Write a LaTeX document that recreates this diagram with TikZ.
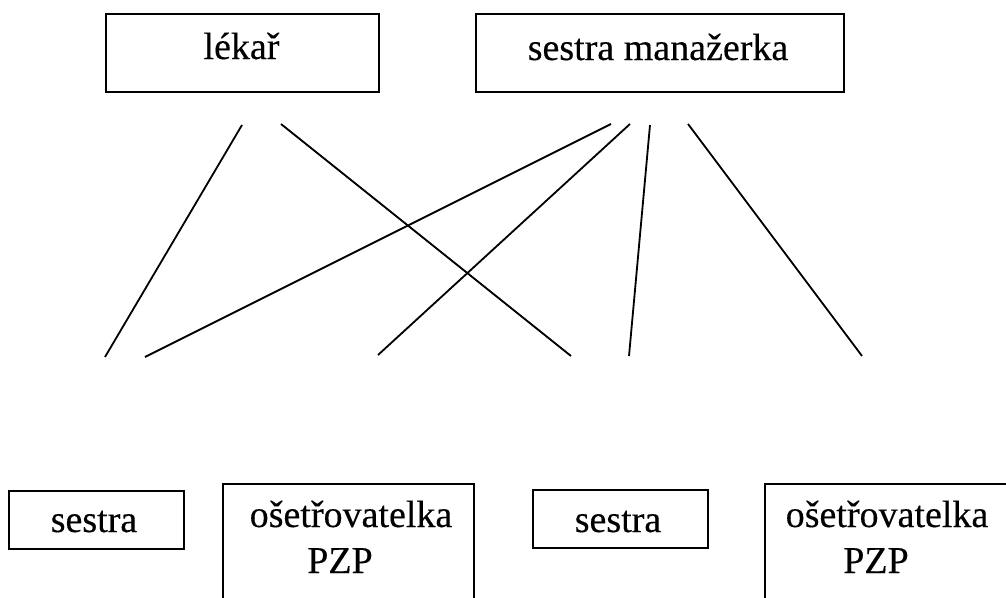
\documentclass[tikz,border=0pt]{standalone}
\usepackage{fontspec}
\setmainfont{Liberation Serif}
\newfontfamily\printface{Liberation Serif}[FakeBold=0.3]
\begin{document}
\begin{tikzpicture}[x=1pt,y=-1pt,
  box/.style={draw,line width=2pt,rectangle,inner sep=0pt,anchor=north west},
  lbl/.style={anchor=base,inner sep=0pt,font=\printface\fontsize{38}{46}\selectfont},
  link/.style={line width=1.8pt}]
\clip (0,0) rectangle (1006,597);
\useasboundingbox (0,0) rectangle (1006,597);

% upper level
\node[box,minimum width=273pt,minimum height=78pt] (lekar) at (105,13) {};
\node[box,minimum width=368pt,minimum height=78pt] (manag) at (475,13) {};
\node[lbl] (tlekar) at (241.5,59) {lékař};
\node[lbl] (tmanag) at (658,60) {sestra manažerka};

% lower level
\node[box,minimum width=175pt,minimum height=58pt] (sA) at (8,490) {};
\node[box,minimum width=251pt,minimum height=160pt] (oA) at (222,483) {};
\node[box,minimum width=175pt,minimum height=58pt] (sB) at (532,489) {};
\node[box,minimum width=260pt,minimum height=160pt] (oB) at (764,483) {};
\node[lbl] (tsA) at (94,532) {sestra};
\node[lbl] (toA1) at (351,527) {ošetřovatelka};
\node[lbl] (toA2) at (340,573) {PZP};
\node[lbl] (tsB) at (618,532) {sestra};
\node[lbl] (toB1) at (887,527) {ošetřovatelka};
\node[lbl] (toB2) at (876,573) {PZP};

% line ends
\coordinate (l1) at (242,125);
\coordinate (l2) at (281,124);
\coordinate (m1) at (611,124);
\coordinate (m2) at (630,124);
\coordinate (m3) at (650,125);
\coordinate (m4) at (688,124);
\coordinate (b1) at (105,357);
\coordinate (b2) at (571,356);
\coordinate (b3) at (145,357);
\coordinate (b4) at (378,355);
\coordinate (b5) at (629,356);
\coordinate (b6) at (862,356);

\draw[link] (l1) -- (b1);
\draw[link] (l2) -- (b2);
\draw[link] (m1) -- (b3);
\draw[link] (m2) -- (b4);
\draw[link] (m3) -- (b5);
\draw[link] (m4) -- (b6);
\end{tikzpicture}
\end{document}
